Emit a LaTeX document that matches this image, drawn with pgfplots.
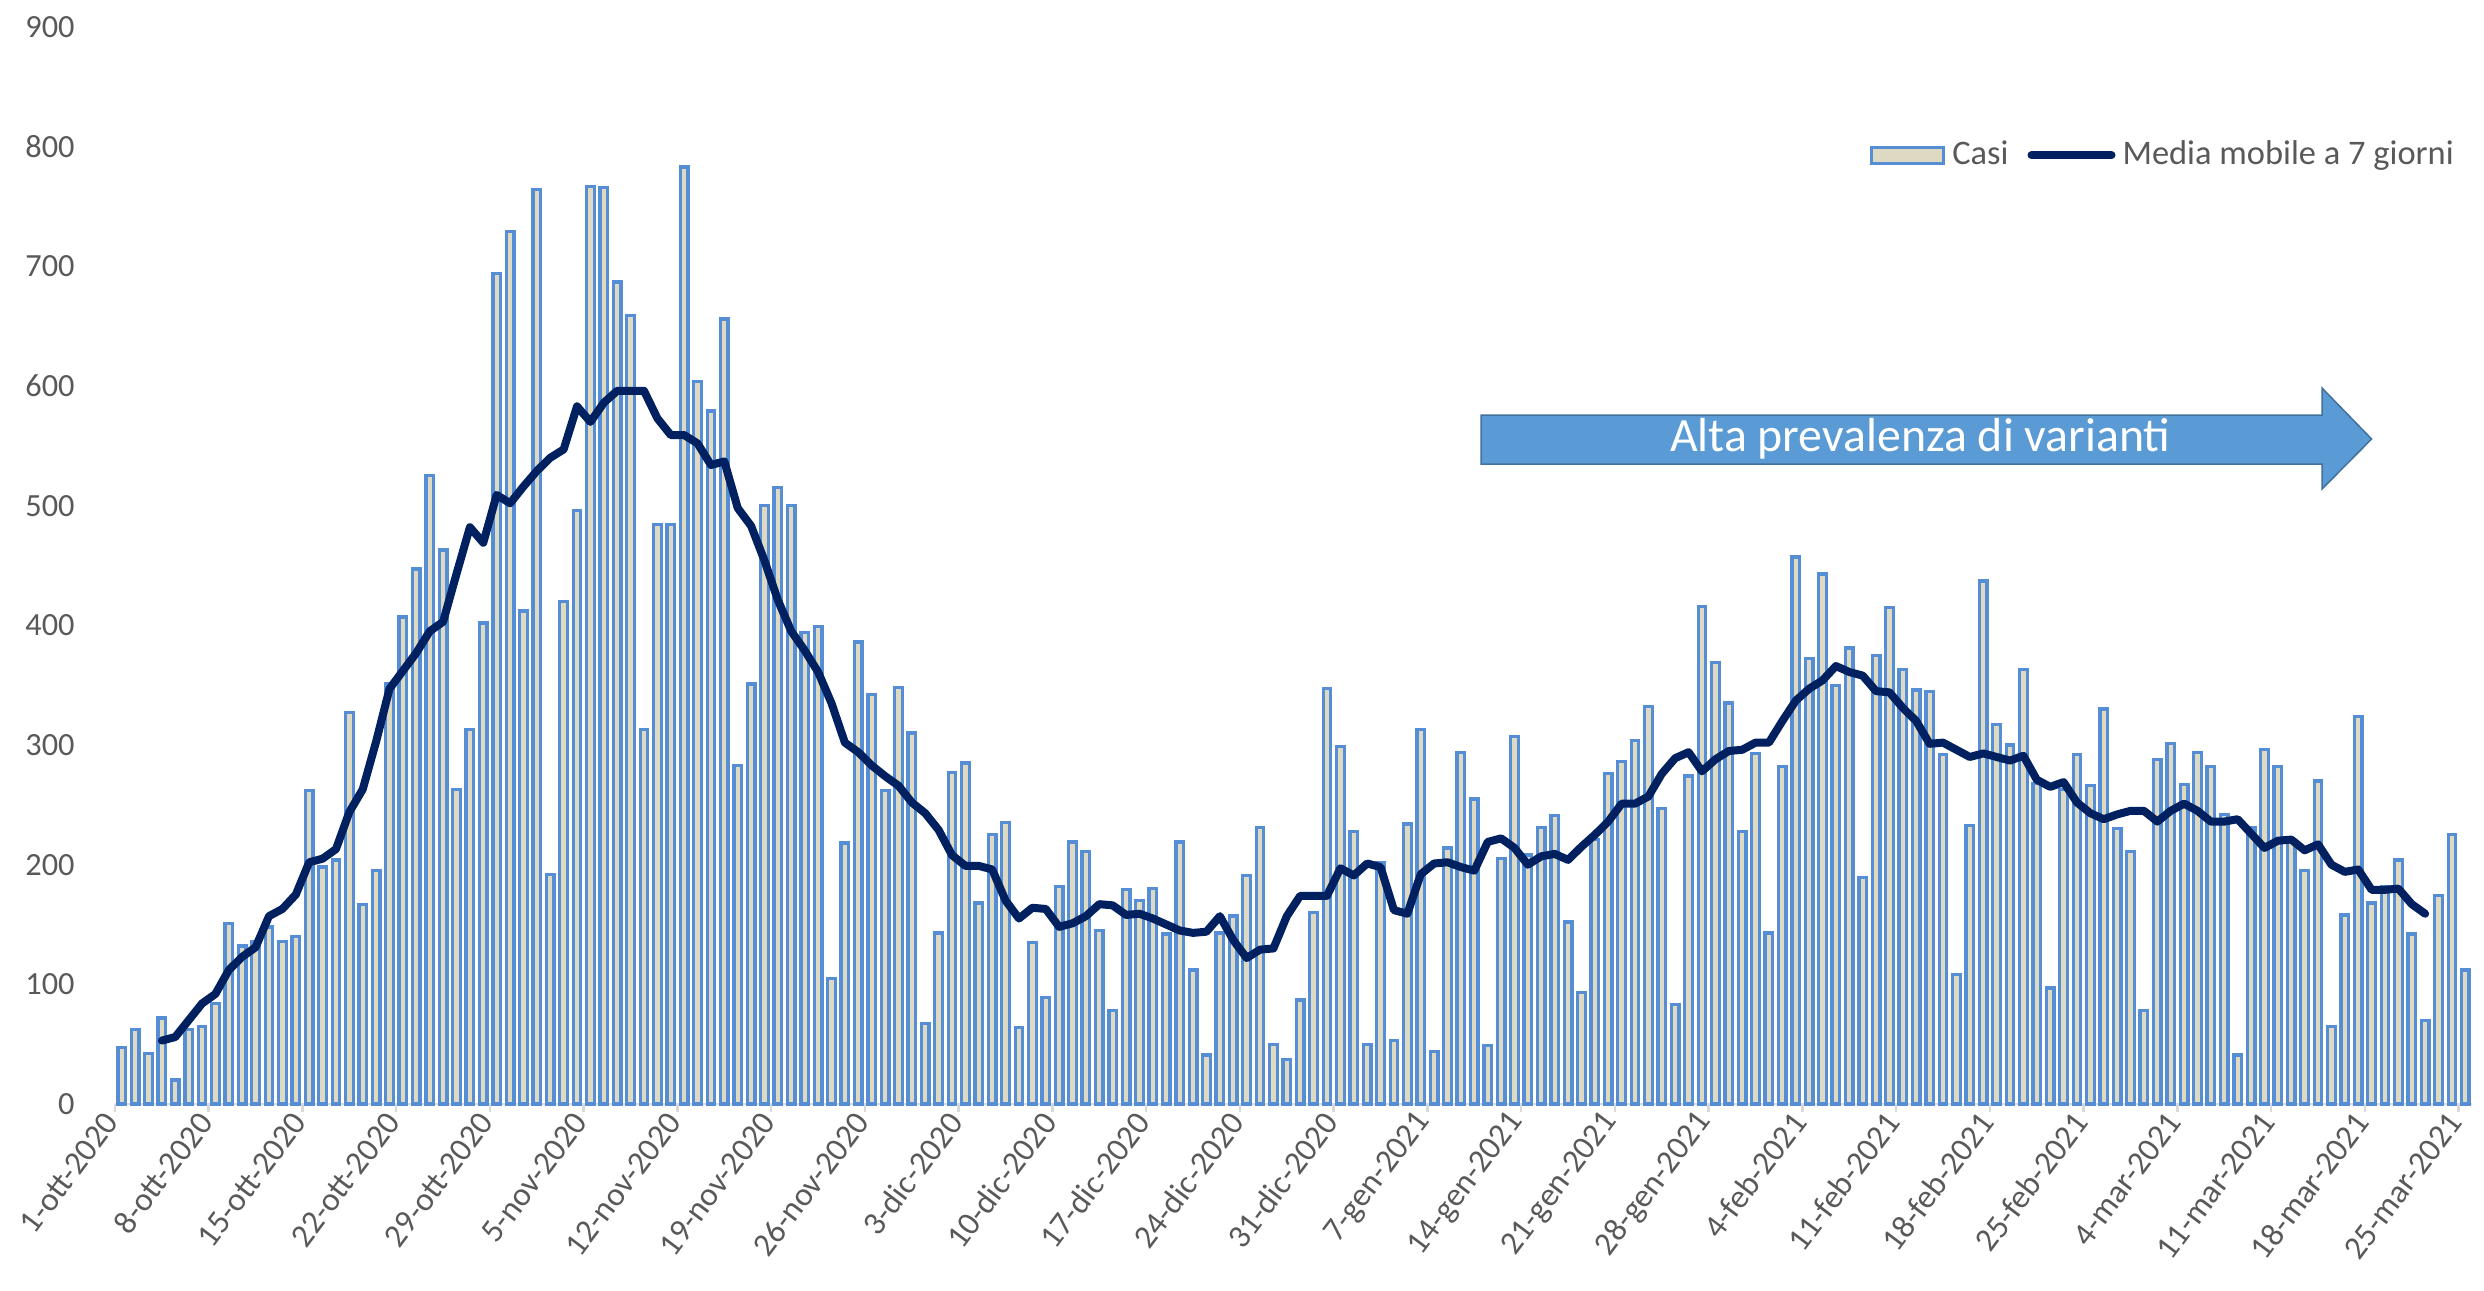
\documentclass[border=0pt]{standalone}
\usepackage{pgfplots}
\pgfplotsset{compat=1.18}
\usepackage{pgfplotstable}
\usepackage{fontspec}
\setmainfont{Carlito}
\definecolor{casiblue}{HTML}{558ED5}
\definecolor{casifill}{HTML}{DDD9C3}
\definecolor{navy}{HTML}{002060}
\definecolor{axgray}{HTML}{D9D9D9}
\definecolor{lblgray}{HTML}{595959}
\definecolor{arrowfill}{HTML}{5B9BD5}
\definecolor{arrowdraw}{HTML}{41719C}

\pgfplotstableread{
casi
47
62
42
72
20
62
65
84
151
132
136
148
136
140
262
198
204
327
167
195
351
407
447
525
463
263
313
402
694
729
412
764
192
420
496
767
766
687
659
313
484
484
783
604
579
656
283
351
500
515
500
394
399
105
218
386
342
262
348
310
67
143
277
285
168
225
235
64
135
89
182
219
211
145
78
179
170
180
142
219
112
41
143
157
191
231
50
37
87
160
347
299
228
50
202
53
234
313
44
214
294
255
49
205
307
208
231
241
152
93
221
276
286
304
332
247
83
274
416
369
335
228
293
143
282
457
372
443
350
381
189
375
415
363
346
345
292
108
233
437
317
300
363
268
97
263
292
266
330
230
211
78
288
301
267
294
282
242
41
231
296
282
220
195
270
65
158
324
168
182
204
142
70
174
225
112
}\casi

\pgfplotstableread{
media
53
56
70
84
92
112
123
131
157
163
175
202
205
213
244
263
303
347
362
377
395
403
443
482
469
509
502
516
529
540
547
583
570
586
596
596
596
573
559
559
552
534
537
498
483
454
421
395
379
361
335
302
294
283
274
266
252
243
229
208
199
199
196
170
155
164
163
148
151
157
167
166
158
159
155
150
145
143
144
157
137
122
129
130
157
174
174
174
197
191
201
198
162
159
192
201
202
198
195
219
222
214
200
207
209
204
215
225
236
251
251
257
276
289
294
278
288
295
296
302
302
320
337
347
354
366
361
358
345
344
331
320
301
302
296
290
293
290
287
291
271
265
269
252
243
238
242
245
245
236
245
251
245
236
236
238
226
214
220
221
212
217
200
194
196
179
179
180
167
159
}\media

\begin{document}
\begin{tikzpicture}
\begin{axis}[
  name=ax,
  scale only axis,
  width=235.7mm, height=107.7mm,
  xmin=-0.5, xmax=175.5,
  ymin=0, ymax=900,
  axis x line*=bottom,
  axis y line*=left,
  y axis line style={draw=none},
  x axis line style={draw=axgray, line width=0.25mm},
  ytick={0,100,...,900},
  ytick style={draw=none},
  xtick={-0.5,6.5,...,174.5},
  xtick style={draw=axgray, line width=0.25mm},
  tick align=outside,
  major tick length=0.8mm,
  xticklabels={1-ott-2020,8-ott-2020,15-ott-2020,22-ott-2020,29-ott-2020,5-nov-2020,12-nov-2020,19-nov-2020,26-nov-2020,3-dic-2020,10-dic-2020,17-dic-2020,24-dic-2020,31-dic-2020,7-gen-2021,14-gen-2021,21-gen-2021,28-gen-2021,4-feb-2021,11-feb-2021,18-feb-2021,25-feb-2021,4-mar-2021,11-mar-2021,18-mar-2021,25-mar-2021},
  xticklabel style={rotate=53, anchor=east, font=\fontsize{9.4}{10}\selectfont, text=lblgray, inner sep=0.5mm},
  yticklabel style={font=\fontsize{9.2}{10}\selectfont, text=lblgray, /pgf/number format/assume math mode=true, xshift=-2mm},
  legend style={draw=none, fill=none, at={(rel axis cs:1.0,0.881)}, anchor=east,
    font=\fontsize{9.8}{11}\selectfont, text=lblgray, legend columns=2,
    /tikz/every even column/.append style={column sep=1.2mm}},
  clip=false,
]
\addplot[ybar, bar width=0.76mm, draw=casiblue, fill=casifill, line width=0.33mm,
  legend image code/.code={\draw[draw=casiblue, fill=casifill, line width=0.3mm] (0mm,-0.8mm) rectangle (7.2mm,0.8mm);}]
  table[x expr=\coordindex, y=casi] {\casi};
\addlegendentry{Casi}
\addplot[navy, line width=0.8mm, line join=round, line cap=round, mark=none,
  legend image code/.code={\draw[navy, line width=0.8mm] (0mm,0mm) -- (8mm,0mm);}]
  table[x expr=\coordindex+3, y=media] {\media};
\addlegendentry{Media mobile a 7 giorni}
\draw[fill=arrowfill, draw=arrowdraw, line width=0.15mm]
  (axis cs:101.5,534.8) -- (axis cs:164.3,534.8) -- (axis cs:164.3,513.9) -- (axis cs:168,555.7)
  -- (axis cs:164.3,598.3) -- (axis cs:164.3,575.7) -- (axis cs:101.5,575.7) -- cycle;
\node[text=white, font=\fontsize{13.6}{15}\selectfont] at (axis cs:134.3,555.7) {Alta prevalenza di varianti};
\end{axis}
\pgfresetboundingbox
\path[use as bounding box] ([xshift=-11.5mm,yshift=-18.6mm]ax.south west) rectangle ([xshift=1.2mm,yshift=2.7mm]ax.north east);
\end{tikzpicture}
\end{document}
